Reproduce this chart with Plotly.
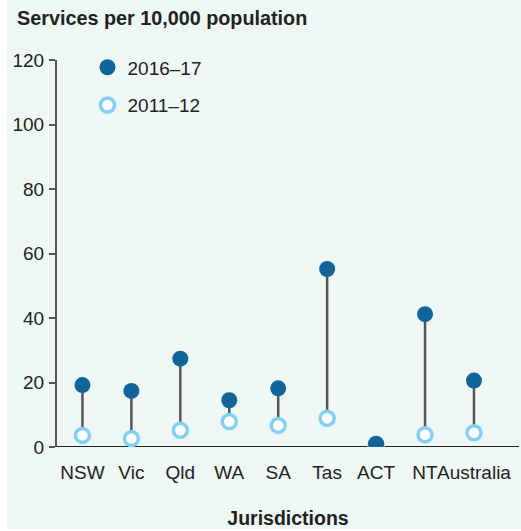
import plotly.graph_objects as go

categories = ["NSW", "Vic", "Qld", "WA", "SA", "Tas", "ACT", "NT", "Australia"]
values_2016 = [19.2, 17.4, 27.4, 14.5, 18.2, 55.2, 1.0, 41.2, 20.6]
values_2011 = [3.6, 2.6, 5.2, 7.9, 6.7, 8.9, 0.3, 3.8, 4.4]
y_ticks = [0, 20, 40, 60, 80, 100, 120]

DARK = "#10649A"
LIGHT = "#82D0F4"
BG = "#EEF7F3"
FONT = "Liberation Sans, Arial, sans-serif"

# connector lines
lx, ly = [], []
for c, a, b in zip(categories, values_2011, values_2016):
    lx += [c, c, None]
    ly += [a, b, None]

fig = go.Figure()
fig.add_trace(go.Scatter(x=lx, y=ly, mode="lines", line=dict(color="#555555", width=2.5),
                         showlegend=False, hoverinfo="skip"))
fig.add_trace(go.Scatter(x=categories, y=values_2011, mode="markers", name="2011–12",
                         marker=dict(size=14, color="white", line=dict(color=LIGHT, width=3.5)),
                         legendrank=2, legendgroup="b"))
fig.add_trace(go.Scatter(x=categories, y=values_2016, mode="markers", name="2016–17",
                         marker=dict(size=16, color=DARK, line=dict(width=0)),
                         legendrank=1, legendgroup="a"))

fig.update_layout(
    width=521, height=531,
    margin=dict(l=57, r=2, t=60, b=84, autoexpand=False),
    paper_bgcolor=BG, plot_bgcolor=BG,
    font=dict(family=FONT, size=19, color="#222222"),
    showlegend=True,
    legend=dict(x=0.066, y=1.03, xanchor="left", yanchor="top", bgcolor="rgba(0,0,0,0)",
                font=dict(size=19, color="#222222"), traceorder="grouped", tracegroupgap=10,
                itemwidth=30),
    xaxis=dict(type="category", range=[-0.52, 8.92], showgrid=False, zeroline=False,
               showline=False, ticks="", tickfont=dict(size=19), ticklabelstandoff=12,
               tickangle=0, automargin=False,
               title=dict(text="<b>Jurisdictions</b>", font=dict(size=19.5), standoff=29)),
    yaxis=dict(range=[0, 120], tickvals=y_ticks, showgrid=False, zeroline=False,
               showline=True, linecolor="#555555", linewidth=2, ticks="outside",
               ticklen=6, tickcolor="#555555", tickwidth=1.5, tickfont=dict(size=19),
               ticklabelstandoff=1, automargin=False),
    shapes=[
        dict(type="line", xref="paper", yref="y", x0=0, x1=1, y0=0, y1=0,
             line=dict(color="#222222", width=2), layer="below"),
        dict(type="rect", xref="paper", yref="paper", x0=-0.2, x1=(7 - 57) / 462,
             y0=-0.3, y1=1.2, fillcolor="white", line=dict(width=0), layer="below"),
        dict(type="rect", xref="paper", yref="paper", x0=-0.2, x1=1.1,
             y0=-0.3, y1=-(529 - 447) / 387.0,
             fillcolor="white", line=dict(width=0), layer="below"),
    ],
    annotations=[
        dict(text="<b>Services per 10,000 population</b>", xref="paper", yref="paper",
             x=(15 - 57) / 462, y=1 + (60 - 18) / 387.0, xanchor="left", yanchor="middle",
             showarrow=False, font=dict(size=19.8, color="#222222")),
    ],
)

fig.write_html("out.html", config={"displayModeBar": False},
               post_script="document.body.style.margin='0';")
